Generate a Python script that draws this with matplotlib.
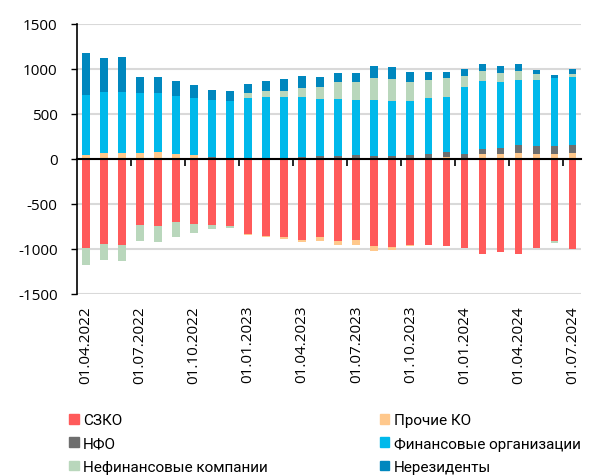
import numpy as np
import matplotlib.pyplot as plt
from matplotlib.patches import Patch

plt.rcParams['font.family'] = ['Open Sans', 'DejaVu Sans']

# Месяцы (с 01.04.2022 по 01.07.2024)
dates = ['01.04.2022', '01.05.2022', '01.06.2022', '01.07.2022', '01.08.2022', '01.09.2022',
         '01.10.2022', '01.11.2022', '01.12.2022', '01.01.2023', '01.02.2023', '01.03.2023',
         '01.04.2023', '01.05.2023', '01.06.2023', '01.07.2023', '01.08.2023', '01.09.2023',
         '01.10.2023', '01.11.2023', '01.12.2023', '01.01.2024', '01.02.2024', '01.03.2024',
         '01.04.2024', '01.05.2024', '01.06.2024', '01.07.2024']

szko = [-993, -944, -956, -737, -752, -704, -726, -741, -752, -837, -863, -870, -900, -874,
        -915, -907, -974, -985, -959, -963, -970, -993, -1063, -1041, -1056, -993, -911, -1004]
prochie_ko = [44, 63, 67, 67, 81, 52, 37, 5, 0, -10, -5, -22, -26, -44,
              -41, -56, -56, -30, -11, 0, 15, 0, 48, 52, 63, 52, 52, 63]
nfo = [0, 0, 0, 0, 0, 0, 5, 10, 5, 0, 0, 0, 22, 30,
       33, 37, 33, 33, 37, 56, 55, 48, 63, 63, 85, 85, 92, 85]
fin_org = [663, 674, 674, 659, 649, 644, 628, 637, 636, 678, 689, 689, 667, 637,
           630, 619, 623, 611, 607, 614, 619, 752, 748, 733, 730, 741, 752, 763]
nefin = [-185, -182, -181, -174, -174, -170, -100, -37, -18, 48, 63, 63, 100, 133,
         189, 192, 240, 241, 212, 211, 211, 122, 119, 108, 100, 63, -22, 33]
nerez = [467, 385, 392, 181, 177, 167, 145, 115, 115, 104, 111, 130, 126, 111,
         96, 108, 134, 134, 114, 82, 70, 71, 78, 77, 70, 44, 30, 56]

series = [
    ('СЗКО', szko, '#FF5A5A'),
    ('Прочие КО', prochie_ko, '#FFC88C'),
    ('НФО', nfo, '#6E6E6E'),
    ('Финансовые организации', fin_org, '#00B9EB'),
    ('Нефинансовые компании', nefin, '#B9D7BC'),
    ('Нерезиденты', nerez, '#0087BE'),
]

x = np.arange(len(dates))
fig = plt.figure(figsize=(5.89, 4.77), dpi=100)
ax = fig.add_axes([0.131, 0.382, 0.856, 0.566])

pos_bottom = np.zeros(len(x))
neg_bottom = np.zeros(len(x))
for name, vals, col in series:
    v = np.array(vals, dtype=float)
    bottom = np.where(v >= 0, pos_bottom, neg_bottom)
    ax.bar(x, v, width=0.42, bottom=bottom, color=col, zorder=3)
    pos_bottom = pos_bottom + np.clip(v, 0, None)
    neg_bottom = neg_bottom + np.clip(v, None, 0)

ax.set_xlim(-0.5, len(x) - 0.5)
ax.set_ylim(-1500, 1500)
ax.set_yticks(np.arange(-1500, 1501, 500))
ax.set_yticklabels([str(t) for t in range(-1500, 1501, 500)], fontsize=11)
ax.grid(axis='y', color='#D9D9D9', linewidth=1.5, zorder=0)
ax.tick_params(axis='y', length=4, width=1, direction='out', pad=10)

for s in ['top', 'right']:
    ax.spines[s].set_visible(False)
ax.spines['left'].set_linewidth(1.2)
ax.spines['bottom'].set_position(('data', 0))
ax.spines['bottom'].set_linewidth(1.5)
ax.spines['bottom'].set_zorder(4)
ax.set_xticks(np.arange(2.5, len(x) - 1, 3))
ax.set_xticklabels([])
ax.tick_params(axis='x', length=5, width=1.2, direction='out')

sec = ax.secondary_xaxis('bottom')
sec.set_xticks(x[::3])
sec.set_xticklabels(dates[::3], rotation=90, fontsize=11)
sec.tick_params(length=0, pad=8)
sec.spines['bottom'].set_visible(False)

order = [0, 2, 4, 1, 3, 5]
handles = [Patch(color=series[i][2], label=series[i][0]) for i in order]
fig.legend(handles=handles, ncol=2, loc='upper left', bbox_to_anchor=(0.105, 0.148),
           frameon=False, prop={'family': ['Roboto', 'DejaVu Sans'], 'size': 11},
           handlelength=0.6, handleheight=0.6,
           handletextpad=0.3, columnspacing=7.35, labelspacing=0.62, borderpad=0)

fig.savefig('out.png', dpi=100)
